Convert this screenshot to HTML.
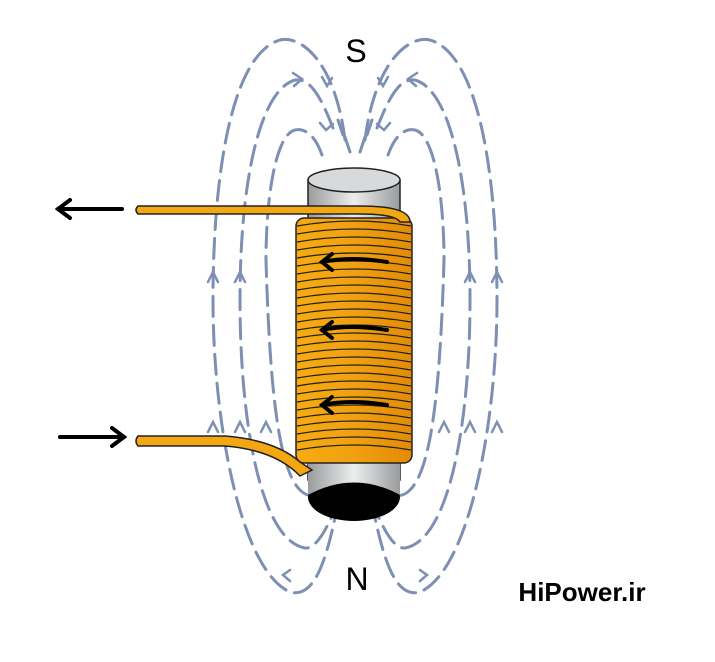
<!DOCTYPE html>
<html><head><style>body{margin:0;background:#fff}svg{display:block}</style></head><body>
<svg width="715" height="662" viewBox="0 0 715 662" xmlns="http://www.w3.org/2000/svg">
<defs>
<linearGradient id="cyl" x1="0" x2="1"><stop offset="0" stop-color="#9a9b9d"/><stop offset="0.5" stop-color="#eceeee"/><stop offset="1" stop-color="#9a9b9d"/></linearGradient>
<linearGradient id="cu" x1="0" x2="1"><stop offset="0" stop-color="#f6ab12"/><stop offset="0.5" stop-color="#f0a010"/><stop offset="1" stop-color="#e48a05"/></linearGradient>
<g id="half">
<g fill="none" stroke="#7d8fb3" stroke-width="3" stroke-dasharray="20 9" stroke-linecap="round">
<path d="M345 140 C335 60,300 35,280 40 C230 55,213 180,213 300 C213 420,240 570,290 592 C320 600,330 540,340 495"/>
<path d="M333 128 C320 95,310 78,295 80 C260 90,240 180,240 300 C240 420,260 540,305 548 C320 550,335 510,342 490"/>
<path d="M322 155 C315 135,305 128,295 130 C275 135,266 200,266 260 C270 400,280 470,300 490 C310 500,320 495,325 488"/>
<path d="M345 137 L350 152"/>
<path d="M338 120 L343 135"/>
</g>
<g fill="none" stroke="#7d8fb3" stroke-width="2.5" stroke-linecap="round">
<path d="M208 282 L213 272 L218 282"/><path d="M235 282 L240 272 L245 282"/>
<path d="M208 432 L213 422 L218 432"/><path d="M235 432 L240 422 L245 432"/>
<path d="M261 432 L266 422 L271 432"/>
<path d="M293 73 L302 79 L294 86"/>
<path d="M322 77 L327 86 L332 78"/>
<path d="M320 123 L326 130 L333 124"/>
<path d="M290 570 L283 575 L290 581"/>
</g>
</g>
</defs>
<use href="#half"/>
<use href="#half" transform="translate(710,0) scale(-1,1)"/>
<!-- core -->
<rect x="308" y="180" width="92" height="300" fill="url(#cyl)" stroke="#222" stroke-width="1.5"/>
<ellipse cx="354" cy="180" rx="46" ry="12" fill="#d8d9da" stroke="#222" stroke-width="1.5"/>
<ellipse cx="354" cy="497" rx="46" ry="24" fill="#000"/>
<rect x="308" y="460" width="92" height="35" fill="url(#cyl)"/>
<path d="M308 495 Q354 470 400 495" fill="#000"/>
<!-- coil -->
<rect x="296" y="218" width="116" height="245" rx="8" fill="url(#cu)" stroke="#222" stroke-width="1.5"/>
<g stroke="#222" stroke-width="1.3" fill="none">
<path d="M297 226 Q354 216 411 226"/><path d="M297 234 Q354 224 411 234"/><path d="M297 242 Q354 232 411 242"/><path d="M297 250 Q354 240 411 250"/><path d="M297 258 Q354 248 411 258"/><path d="M297 266 Q354 256 411 266"/><path d="M297 274 Q354 264 411 274"/><path d="M297 282 Q354 272 411 282"/><path d="M297 290 Q354 280 411 290"/><path d="M297 298 Q354 288 411 298"/><path d="M297 306 Q354 296 411 306"/><path d="M297 314 Q354 304 411 314"/><path d="M297 322 Q354 312 411 322"/><path d="M297 330 Q354 320 411 330"/><path d="M297 338 Q354 328 411 338"/><path d="M297 346 Q354 336 411 346"/><path d="M297 354 Q354 344 411 354"/><path d="M297 362 Q354 352 411 362"/><path d="M297 370 Q354 360 411 370"/><path d="M297 378 Q354 368 411 378"/><path d="M297 386 Q354 376 411 386"/><path d="M297 394 Q354 384 411 394"/><path d="M297 402 Q354 392 411 402"/><path d="M297 410 Q354 400 411 410"/><path d="M297 418 Q354 408 411 418"/><path d="M297 426 Q354 416 411 426"/><path d="M297 434 Q354 424 411 434"/><path d="M297 442 Q354 432 411 442"/><path d="M297 450 Q354 440 411 450"/>
</g>
<!-- wires -->
<path d="M138 206 L360 206 Q410 206 410 222 L400 222 Q395 214 360 214 L138 214 Q134 210 138 206 Z" fill="#f3a712" stroke="#222" stroke-width="1.5"/>
<path d="M138 436 L225 436 Q275 440 300 462 L312 470 L300 476 Q275 450 225 446 L138 446 Q134 441 138 436 Z" fill="#f3a712" stroke="#222" stroke-width="1.5"/>
<!-- arrows -->
<g stroke="#000" stroke-width="4" fill="none" stroke-linecap="round">
<path d="M122 209 L58 209"/><path d="M70 200 L58 209 L70 218"/>
<path d="M60 437 L124 437"/><path d="M112 428 L124 437 L112 446"/>
<path d="M387 262 Q350 256 322 262"/><path d="M332 254 L322 262 L332 270"/>
<path d="M387 330 Q350 324 322 330"/><path d="M332 322 L322 330 L332 338"/>
<path d="M387 405 Q350 399 322 405"/><path d="M332 397 L322 405 L332 413"/>
</g>
<text x="356" y="62" font-family="Liberation Sans, sans-serif" font-size="32" text-anchor="middle">S</text>
<text x="357" y="590" font-family="Liberation Sans, sans-serif" font-size="32" text-anchor="middle">N</text>
<text x="582" y="601" font-family="Liberation Sans, sans-serif" font-size="26" font-weight="bold" text-anchor="middle">HiPower.ir</text>
</svg>
</body></html>
